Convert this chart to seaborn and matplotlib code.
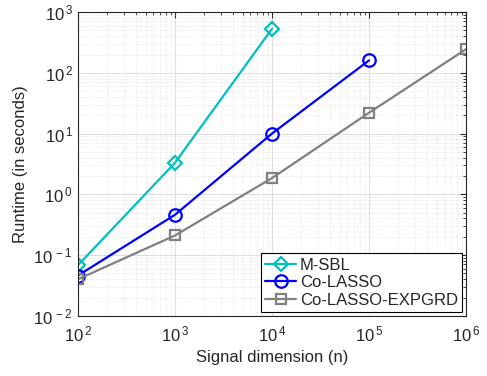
import matplotlib
matplotlib.use("Agg")
import matplotlib.pyplot as plt
import matplotlib.ticker as mticker
import seaborn as sns
import numpy as np

# Runtime vs signal dimension (log-log)
n_sbl = [1e2, 1e3, 1e4]
t_sbl = [0.068, 3.3, 530]

n_colasso = [1e2, 1e3, 1e4, 1e5]
t_colasso = [0.046, 0.46, 10, 160]

n_expgrd = [1e2, 1e3, 1e4, 1e5, 1e6]
t_expgrd = [0.040, 0.21, 1.85, 22, 245]

labels = ['M-SBL', 'Co-LASSO', 'Co-LASSO-EXPGRD']
colors = ['#00BFBF', '#0000FF', '#808080']
markers = ['D', 'o', 's']
msizes = [7, 9, 6.5]

sns.set_style('white')
plt.rcParams['font.family'] = ['Liberation Sans', 'DejaVu Sans']
plt.rcParams['mathtext.fontset'] = 'custom'
plt.rcParams['mathtext.rm'] = 'Liberation Sans'

fig = plt.figure(figsize=(4.87, 3.76), dpi=100)
ax = fig.add_axes([0.160, 0.160, 0.797, 0.808])

series = [(n_sbl, t_sbl), (n_colasso, t_colasso), (n_expgrd, t_expgrd)]
for (x, y), lab, c, m, ms in zip(series, labels, colors, markers, msizes):
    sns.lineplot(x=x, y=y, ax=ax, color=c, marker=m, markersize=ms,
                 markerfacecolor='none', markeredgecolor=c, markeredgewidth=1.6,
                 linewidth=1.6, label=lab)

ax.set_xscale('log')
ax.set_yscale('log')
ax.set_xlim(1e2, 1e6)
ax.set_ylim(1e-2, 1e3)

def fmt(v, pos):
    e = int(round(np.log10(v)))
    return r'$\mathregular{10^{\,%d}}$' % e

ax.xaxis.set_major_locator(mticker.LogLocator(base=10, numticks=10))
ax.yaxis.set_major_locator(mticker.LogLocator(base=10, numticks=10))
ax.xaxis.set_major_formatter(mticker.FuncFormatter(fmt))
ax.yaxis.set_major_formatter(mticker.FuncFormatter(fmt))
ax.xaxis.set_minor_locator(mticker.LogLocator(base=10, subs=np.arange(2, 10), numticks=20))
ax.yaxis.set_minor_locator(mticker.LogLocator(base=10, subs=np.arange(2, 10), numticks=20))
ax.xaxis.set_minor_formatter(mticker.NullFormatter())
ax.yaxis.set_minor_formatter(mticker.NullFormatter())

ax.grid(True, which='major', color='#dedede', linewidth=0.8, linestyle='-')
ax.grid(True, which='minor', color='#e0e0e0', linewidth=0.6, linestyle=':')
ax.set_axisbelow(True)

ax.tick_params(which='both', direction='in', top=True, right=True, labelsize=12, colors='#262626')
ax.tick_params(which='major', length=4, width=0.8)
ax.tick_params(which='minor', length=2, width=0.6)
ax.tick_params(axis='x', pad=6)
for s in ax.spines.values():
    s.set_color('#262626')
    s.set_linewidth(0.8)

ax.set_xlabel('Signal dimension (n)', fontsize=12, color='#262626')
ax.set_ylabel('Runtime (in seconds)', fontsize=12, color='#262626')

leg = ax.legend(loc='lower right', fontsize=12, frameon=True, fancybox=False,
                edgecolor='black', framealpha=1, borderaxespad=0.25,
                handlelength=1.9, borderpad=0.25, labelspacing=0.15, handletextpad=0.2)
leg.get_frame().set_linewidth(0.8)

fig.savefig('out.png', dpi=100)
